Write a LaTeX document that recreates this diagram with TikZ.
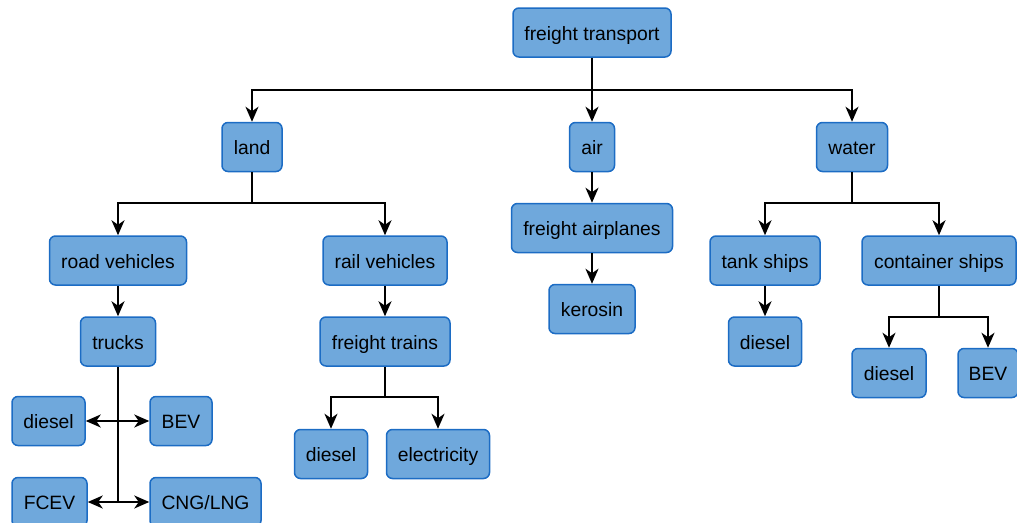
\documentclass[tikz,border=0pt]{standalone}
\usepackage{fontspec}
\setmainfont{Liberation Sans}
\usetikzlibrary{arrows.meta}
\definecolor{boxfill}{RGB}{111,168,220}
\definecolor{boxline}{RGB}{28,108,196}
\tikzset{
  box/.style={draw=boxline, fill=boxfill, line width=1.5pt, rounded corners=6pt,
    minimum width=#1, minimum height=49pt, inner sep=0pt,
    text height=19.5pt, text depth=4pt,
    font=\fontsize{19.3}{22}\selectfont},
  link/.style={line width=2pt, black},
  arr/.style={link, -{Stealth[length=15pt,width=13pt,inset=4.5pt]}}
}
\begin{document}
\begin{tikzpicture}[x=1pt,y=-1pt]
\useasboundingbox (0,0) rectangle (1017,522);
\clip (0,0) rectangle (1017,522);

% top level and the three modes
\node[box=158] (ft) at (592,32.5) {freight transport};
\node[box=60] (land) at (252,147) {land};
\node[box=45] (air) at (592,147) {air};
\node[box=71] (water) at (852,147) {water};

% land branch
\node[box=137] (road) at (118,260.5) {road vehicles};
\node[box=124] (rail) at (385,260.5) {rail vehicles};
\node[box=75] (trucks) at (118,341.5) {trucks};
\node[box=130] (trains) at (385,341.5) {freight trains};
\node[box=73] (rdiesel) at (48.5,421) {diesel};
\node[box=62] (rbev) at (181,421) {BEV};
\node[box=75] (fcev) at (49.5,502) {FCEV};
\node[box=111] (cng) at (205.5,502) {CNG/LNG};
\node[box=73] (tdiesel) at (331,454) {diesel};
\node[box=103] (elec) at (438,454) {electricity};

% air branch
\node[box=161] (plane) at (592,228) {freight airplanes};
\node[box=86] (kero) at (592,309) {kerosin};

% water branch
\node[box=110] (tank) at (765,260.5) {tank ships};
\node[box=154] (cont) at (939,260.5) {container ships};
\node[box=73] (sdiesel) at (765,341.5) {diesel};
\node[box=74] (cdiesel) at (889,373) {diesel};
\node[box=60] (cbev) at (988,373) {BEV};

% junction points
\coordinate (j0) at (592,90);
\coordinate (jl) at (252,203);
\coordinate (jw) at (852,203);
\coordinate (jt1) at (118,421);
\coordinate (jt2) at (118,502);
\coordinate (jr) at (385,397);
\coordinate (jc) at (939,317);

% connectors
\draw[link] (ft) -- (j0);
\draw[arr] (j0) -| (land);
\draw[arr] (j0) -- (air);
\draw[arr] (j0) -| (water);

\draw[link] (land) -- (jl);
\draw[arr] (jl) -| (road);
\draw[arr] (jl) -| (rail);

\draw[arr] (air) -- (plane);
\draw[arr] (plane) -- (kero);

\draw[link] (water) -- (jw);
\draw[arr] (jw) -| (tank);
\draw[arr] (jw) -| (cont);

\draw[arr] (road) -- (trucks);
\draw[link] (trucks) -- (jt2);
\draw[arr] (jt1) -- (rdiesel);
\draw[arr] (jt1) -- (rbev);
\draw[arr] (jt2) -- (fcev);
\draw[arr] (jt2) -- (cng);

\draw[arr] (rail) -- (trains);
\draw[link] (trains) -- (jr);
\draw[arr] (jr) -| (tdiesel);
\draw[arr] (jr) -| (elec);

\draw[arr] (tank) -- (sdiesel);
\draw[link] (cont) -- (jc);
\draw[arr] (jc) -| (cdiesel);
\draw[arr] (jc) -| (cbev);
\end{tikzpicture}
\end{document}
